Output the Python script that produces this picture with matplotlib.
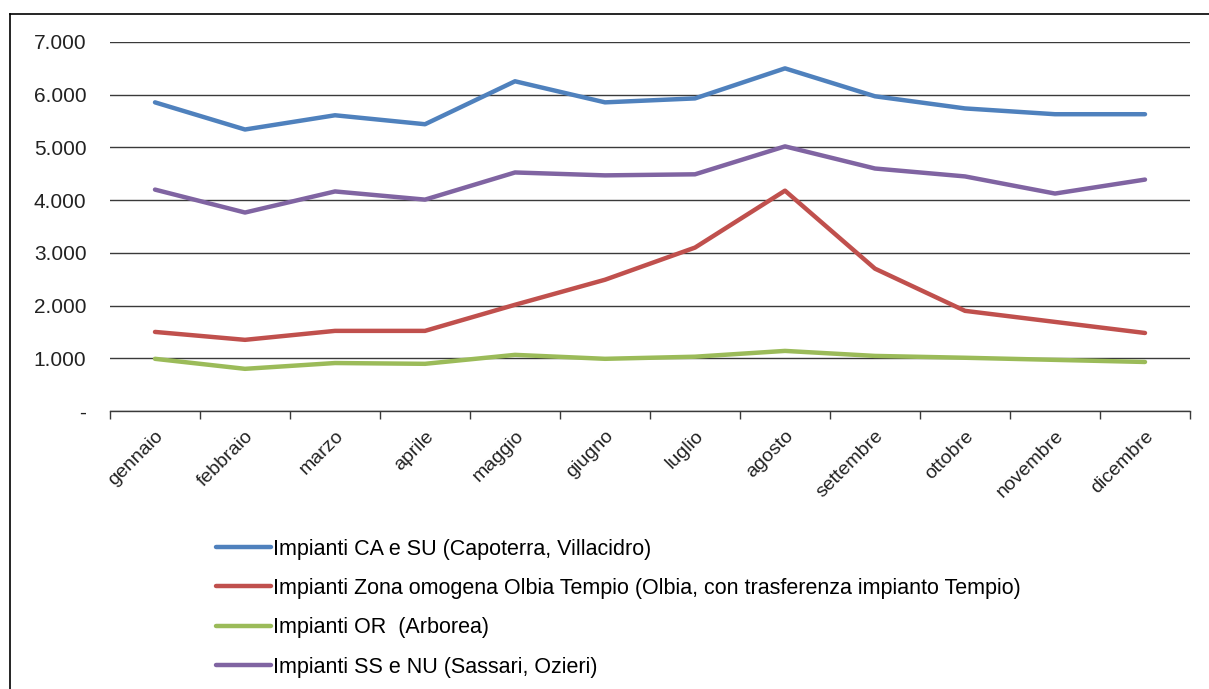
import matplotlib
matplotlib.use("Agg")
import matplotlib.pyplot as plt
from matplotlib.lines import Line2D
import numpy as np

plt.rcParams['font.family'] = ['Liberation Sans', 'DejaVu Sans']

months = ["gennaio", "febbraio", "marzo", "aprile", "maggio", "giugno",
          "luglio", "agosto", "settembre", "ottobre", "novembre", "dicembre"]
ca_su = [5855, 5340, 5610, 5440, 6255, 5855, 5930, 6500, 5970, 5740, 5630, 5630]
olbia = [1500, 1350, 1520, 1520, 2015, 2490, 3100, 4180, 2700, 1900, 1690, 1480]
oristano = [990, 800, 910, 895, 1065, 990, 1030, 1140, 1045, 1010, 970, 930]
ss_nu = [4200, 3765, 4165, 4010, 4525, 4470, 4490, 5020, 4600, 4450, 4125, 4390]

series_labels = ["Impianti CA e SU (Capoterra, Villacidro)",
                 "Impianti Zona omogena Olbia Tempio (Olbia, con trasferenza impianto Tempio)",
                 "Impianti OR  (Arborea)",
                 "Impianti SS e NU (Sassari, Ozieri)"]
colors = ["#4F81BD", "#C0504D", "#9BBB59", "#8064A2"]
yticks = [0, 1000, 2000, 3000, 4000, 5000, 6000, 7000]
ytick_labels = ["-", "1.000", "2.000", "3.000", "4.000", "5.000", "6.000", "7.000"]

W, H = 1209, 689
fig = plt.figure(figsize=(W / 100, H / 100), dpi=100)
ax = fig.add_axes([110 / W, (H - 411) / H, (1190 - 110) / W, (411 - 42) / H])

x = np.arange(len(months))
handles = []
for vals, c, lab in zip([ca_su, olbia, oristano, ss_nu], colors, series_labels):
    h, = ax.plot(x, vals, color=c, lw=3.2, label=lab, solid_capstyle='round', zorder=3)
    handles.append(h)

ax.set_xlim(-0.5, len(months) - 0.5)
ax.set_ylim(0, 7000)
ax.set_yticks(yticks)
ax.set_yticklabels(ytick_labels, fontsize=15, color='#222222')
ax.yaxis.grid(True, color='#3a3a3a', lw=1)
ax.set_axisbelow(True)
ax.tick_params(axis='y', length=0, pad=17)

ax.set_xticks(np.arange(-0.5, len(months), 1.0))
ax.set_xticklabels([])
ax.set_xticks(x, minor=True)
ax.set_xticklabels(months, minor=True, rotation=45, ha='right',
                   rotation_mode='anchor', fontsize=14, color='#222222')
ax.tick_params(axis='x', which='major', length=6, width=1, color='#3a3a3a', direction='out')
ax.tick_params(axis='x', which='minor', length=0, pad=12)

for s in ['top', 'right', 'left']:
    ax.spines[s].set_visible(False)
ax.spines['bottom'].set_color('#3a3a3a')
ax.spines['bottom'].set_linewidth(1)

# outer frame (top and left edges visible)
fig.add_artist(Line2D([10 / W, 1.0], [(H - 14) / H] * 2, color='black', lw=1.2,
                      transform=fig.transFigure))
fig.add_artist(Line2D([10 / W] * 2, [0, (H - 14) / H], color='black', lw=1.2,
                      transform=fig.transFigure))

leg = fig.legend(handles=handles, labels=series_labels, loc='upper left',
                 bbox_to_anchor=(207 / W, (H - 530) / H), frameon=False,
                 fontsize=15.5, handlelength=2.55, handletextpad=0.1,
                 labelspacing=0.85, borderaxespad=0)

fig.savefig("out.png", dpi=100)
